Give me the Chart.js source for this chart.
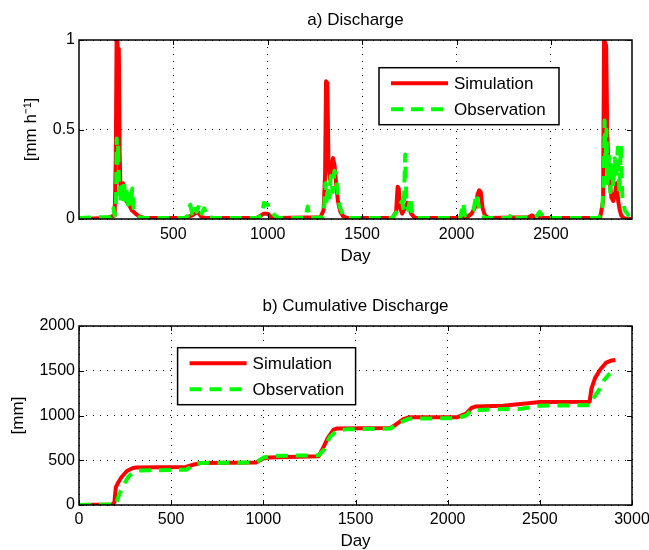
<!DOCTYPE html>
<html>
<head>
<meta charset="utf-8">
<script src="https://cdn.jsdelivr.net/npm/chart.js@4.4.0/dist/chart.umd.min.js"></script>
<style>
html, body { margin: 0; padding: 0; background: #fff; overflow: hidden; }
canvas { position: absolute; left: 0; }
</style>
</head>
<body>
<canvas id="dischargeChart" width="649" height="280" style="top:0"></canvas>
<canvas id="cumulativeChart" width="649" height="272" style="top:280px"></canvas>
<script>
// a) daily discharge [mm h-1]
const simDays = [1, 150, 190, 196, 200, 204, 208, 212, 216, 220,
    226, 234, 242, 252, 265, 280, 300, 320, 350, 560,
    600, 630, 650, 680, 940, 980, 1000, 1020, 1050, 1280,
    1296, 1304, 1309, 1316, 1322, 1330, 1338, 1346, 1354, 1362,
    1372, 1385, 1400, 1420, 1660, 1680, 1688, 1694, 1702, 1712,
    1722, 1740, 1760, 1780, 2050, 2080, 2100, 2112, 2120, 2128,
    2138, 2150, 2170, 2380, 2400, 2420, 2760, 2776, 2781, 2786,
    2792, 2798, 2804, 2812, 2820, 2830, 2840, 2848, 2856, 2864,
    2872, 2885, 2900, 2929];
const simFlow = [0, 0.005, 0.02, 0.35, 1.0, 1.0, 0.93, 0.95, 0.38, 0.2,
    0.15, 0.2, 0.12, 0.1, 0.08, 0.05, 0.03, 0.015, 0.005, 0.005,
    0.02, 0.04, 0.01, 0.005, 0.005, 0.03, 0.03, 0.01, 0.005, 0.01,
    0.05, 0.25, 0.77, 0.76, 0.3, 0.22, 0.3, 0.34, 0.3, 0.2,
    0.1, 0.04, 0.015, 0.005, 0.005, 0.04, 0.18, 0.17, 0.06, 0.03,
    0.05, 0.09, 0.03, 0.005, 0.005, 0.03, 0.07, 0.14, 0.16, 0.15,
    0.06, 0.02, 0.005, 0.01, 0.02, 0.005, 0.005, 0.1, 1.0, 1.0,
    0.97, 0.48, 0.3, 0.2, 0.12, 0.1, 0.15, 0.2, 0.1, 0.05,
    0.02, 0.005, 0.002, 0];

const obsDays = [1, 100, 170, 184, 190, 197, 201, 205, 209, 213,
    218, 223, 228, 234, 240, 247, 254, 261, 268, 275,
    283, 290, 300, 320, 350, 560, 580, 590, 600, 614,
    624, 638, 650, 664, 680, 720, 940, 970, 980, 1000,
    1015, 1035, 1060, 1200, 1212, 1220, 1290, 1300, 1306, 1312,
    1318, 1326, 1334, 1344, 1354, 1362, 1372, 1385, 1400, 1420,
    1660, 1690, 1700, 1712, 1720, 1728, 1734, 1745, 1755, 1765,
    1790, 2020, 2035, 2045, 2070, 2090, 2105, 2112, 2120, 2130,
    2150, 2280, 2290, 2300, 2420, 2440, 2460, 2480, 2750, 2770,
    2779, 2784, 2789, 2794, 2800, 2807, 2814, 2822, 2830, 2838,
    2846, 2854, 2862, 2870, 2878, 2890, 2910, 2929];
const obsFlow = [0.005, 0.01, 0.01, 0.06, 0.02, 0.1, 0.45, 0.3, 0.42, 0.14,
    0.2, 0.09, 0.18, 0.11, 0.2, 0.09, 0.17, 0.08, 0.14, 0.07,
    0.17, 0.06, 0.03, 0.01, 0.005, 0.005, 0.02, 0.08, 0.03, 0.07,
    0.04, 0.08, 0.03, 0.06, 0.01, 0.005, 0.005, 0.02, 0.09, 0.08,
    0.05, 0.02, 0.005, 0.005, 0.07, 0.005, 0.01, 0.08, 0.2, 0.1,
    0.18, 0.12, 0.24, 0.15, 0.27, 0.25, 0.12, 0.06, 0.02, 0.005,
    0.005, 0.05, 0.08, 0.1, 0.05, 0.36, 0.1, 0.05, 0.12, 0.03,
    0.005, 0.005, 0.09, 0.02, 0.03, 0.05, 0.14, 0.1, 0.06, 0.03,
    0.005, 0.005, 0.03, 0.005, 0.01, 0.04, 0.01, 0.005, 0.005, 0.03,
    0.2, 0.55, 0.3, 0.5, 0.2, 0.35, 0.15, 0.3, 0.18, 0.34,
    0.24, 0.4, 0.15, 0.41, 0.12, 0.05, 0.02, 0.01];

// b) cumulative discharge [mm]
const cumSimDays = [0, 180, 192, 200, 215, 230, 260, 290, 310, 580,
    620, 660, 960, 1000, 1030, 1300, 1320, 1350, 1380, 1400,
    1690, 1720, 1760, 1790, 2050, 2100, 2130, 2150, 2300, 2450,
    2500, 2770, 2780, 2800, 2830, 2860, 2890, 2910];
const cumSim = [0, 5, 30, 200, 260, 310, 380, 410, 420, 425,
    450, 470, 475, 520, 530, 545, 620, 750, 840, 855,
    860, 900, 960, 980, 980, 1020, 1085, 1100, 1110, 1140,
    1150, 1155, 1300, 1420, 1520, 1590, 1615, 1620];
const cumObsDays = [0, 200, 215, 240, 270, 300, 330, 580, 620, 660,
    960, 1000, 1050, 1300, 1330, 1360, 1400, 1450, 1690, 1740,
    1790, 2050, 2100, 2130, 2200, 2400, 2500, 2770, 2790, 2820,
    2850, 2880];
const cumObs = [0, 5, 100, 220, 320, 370, 385, 395, 440, 470,
    475, 530, 550, 555, 620, 760, 830, 845, 855, 920,
    965, 970, 1000, 1060, 1065, 1075, 1110, 1115, 1190, 1280,
    1400, 1470];

const dischargeTicksX = [500, 1000, 1500, 2000, 2500];
const dischargeTicksY = [0, 0.5, 1];
const cumTicksX = [0, 500, 1000, 1500, 2000, 2500, 3000];
const cumTicksY = [0, 500, 1000, 1500, 2000];

Chart.defaults.font.family = '"Liberation Sans", Arial, Helvetica, sans-serif';
Chart.defaults.font.size = 16;
Chart.defaults.color = '#000';

function toPoints(xs, ys) {
    return xs.map((x, i) => ({ x: x, y: ys[i] }));
}

// matlab style box with inward ticks
const framePlugin = {
    id: 'frame',
    afterDatasetsDraw(chart) {
        const { ctx, chartArea: a, scales } = chart;
        ctx.save();
        ctx.strokeStyle = '#000';
        ctx.lineWidth = 1.5;
        ctx.strokeRect(a.left, a.top, a.right - a.left, a.bottom - a.top);
        ctx.lineWidth = 1;
        ctx.beginPath();
        scales.x.ticks.forEach(t => {
            const px = Math.round(scales.x.getPixelForValue(t.value)) + 0.5;
            ctx.moveTo(px, a.bottom); ctx.lineTo(px, a.bottom - 5);
            ctx.moveTo(px, a.top); ctx.lineTo(px, a.top + 5);
        });
        scales.y.ticks.forEach(t => {
            const py = Math.round(scales.y.getPixelForValue(t.value)) + 0.5;
            ctx.moveTo(a.left, py); ctx.lineTo(a.left + 5, py);
            ctx.moveTo(a.right, py); ctx.lineTo(a.right - 5, py);
        });
        ctx.stroke();
        ctx.restore();
    }
};

// legend box placed inside the plot like matlab does
const boxLegendPlugin = {
    id: 'boxLegend',
    afterDraw(chart, args, opts) {
        const ctx = chart.ctx;
        ctx.save();
        ctx.fillStyle = '#fff';
        ctx.fillRect(opts.x, opts.y, opts.w, opts.h);
        ctx.strokeStyle = '#000';
        ctx.lineWidth = 1.5;
        ctx.strokeRect(opts.x, opts.y, opts.w, opts.h);
        chart.data.datasets.forEach((ds, i) => {
            const y = opts.y + 15.6 + i * 26;
            ctx.strokeStyle = ds.borderColor;
            ctx.lineWidth = ds.borderWidth;
            ctx.setLineDash(ds.borderDash || []);
            ctx.beginPath();
            ctx.moveTo(opts.x + 12, y);
            ctx.lineTo(opts.x + 69, y);
            ctx.stroke();
            ctx.setLineDash([]);
            ctx.fillStyle = '#000';
            ctx.font = '17px "Liberation Sans", Arial, sans-serif';
            ctx.textBaseline = 'middle';
            ctx.fillText(ds.label, opts.x + 75, y + 1);
        });
        ctx.restore();
    }
};

function makeAxis(ticks, extra) {
    return Object.assign({
        type: 'linear',
        afterBuildTicks: s => { s.ticks = ticks.map(v => ({ value: v })); },
        grid: { color: '#000', lineWidth: 1, drawTicks: false },
        border: { display: false, dash: [1, 6] },
        ticks: { autoSkip: false, maxRotation: 0, color: '#000', callback: v => String(v) }
    }, extra);
}

function makeChart(canvasId, series, cfg) {
    const ctx = document.getElementById(canvasId).getContext('2d');
    return new Chart(ctx, {
        type: 'line',
        data: {
            datasets: [{
                label: 'Simulation',
                data: series[0],
                borderColor: '#ff0000',
                borderWidth: 4,
                pointRadius: 0,
                tension: 0,
                borderJoinStyle: 'round',
                order: 2
            }, {
                label: 'Observation',
                data: series[1],
                borderColor: '#00ff00',
                borderWidth: 4,
                borderDash: [12, 8],
                pointRadius: 0,
                tension: 0,
                borderJoinStyle: 'round',
                order: 1
            }]
        },
        options: {
            responsive: false,
            animation: false,
            layout: { padding: { left: 0, right: 17, top: 0, bottom: 0 } },
            plugins: {
                legend: { display: false },
                tooltip: { enabled: false },
                title: {
                    display: true,
                    text: cfg.title,
                    fullSize: false,
                    color: '#000',
                    font: { size: 17, weight: 'normal' },
                    padding: cfg.titlePad
                },
                boxLegend: cfg.legend
            },
            scales: {
                x: makeAxis(cfg.ticksX, {
                    min: cfg.xMin, max: cfg.xMax,
                    afterFit: s => { s.height = cfg.xHeight; s.paddingLeft = 0; s.paddingRight = 0; },
                    ticks: { autoSkip: false, maxRotation: 0, color: '#000', padding: cfg.xTickPad, callback: v => String(v) },
                    title: { display: true, text: 'Day', color: '#000', font: { size: 17 }, padding: { top: 0, bottom: cfg.dayPad } }
                }),
                y: makeAxis(cfg.ticksY, {
                    min: cfg.yMin, max: cfg.yMax,
                    afterFit: s => { s.width = 79; },
                    ticks: { autoSkip: false, color: '#000', padding: 4, callback: v => String(v) },
                    title: { display: true, text: cfg.yTitle, color: '#000', font: { size: 17 }, padding: { top: cfg.yTitlePad, bottom: 0 } }
                })
            }
        },
        plugins: [framePlugin, boxLegendPlugin]
    });
}

makeChart('dischargeChart', [toPoints(simDays, simFlow), toPoints(obsDays, obsFlow)], {
    title: 'a) Discharge',
    titlePad: { top: 10.5, bottom: 9.1 },
    ticksX: dischargeTicksX, ticksY: dischargeTicksY,
    xMin: 1, xMax: 2929, yMin: 0, yMax: 1,
    xHeight: 61, xTickPad: 6, dayPad: 13,
    yTitle: '[mm h\u207B\u00B9]', yTitlePad: 21,
    legend: { x: 379, y: 67.7, w: 180, h: 57 }
});

makeChart('cumulativeChart', [toPoints(cumSimDays, cumSim), toPoints(cumObsDays, cumObs)], {
    title: 'b) Cumulative Discharge',
    titlePad: { top: 16.5, bottom: 9.1 },
    ticksX: cumTicksX, ticksY: cumTicksY,
    xMin: 0, xMax: 3000, yMin: 0, yMax: 2000,
    xHeight: 47, xTickPad: 5, dayPad: 0,
    yTitle: '[mm]', yTitlePad: 8,
    legend: { x: 177.6, y: 67.7, w: 178, h: 57 }
});
</script>
</body>
</html>
